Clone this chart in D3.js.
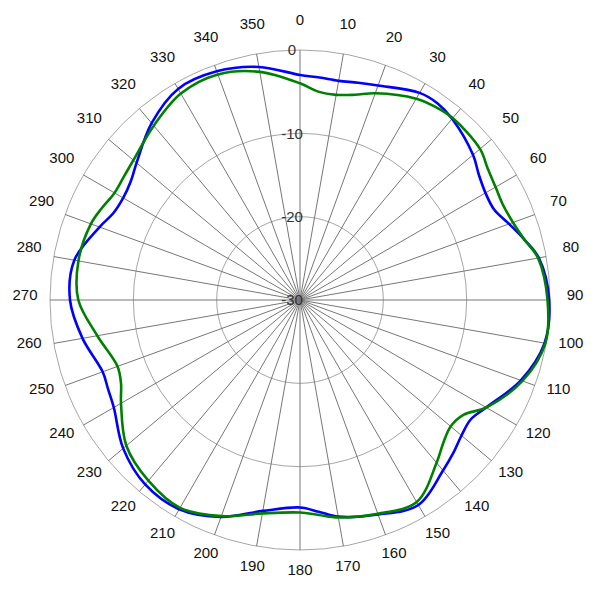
<!DOCTYPE html>
<html><head><meta charset="utf-8">
<script src="https://cdn.jsdelivr.net/npm/d3@7"></script>
<style>body{margin:0;background:#fff}svg{display:block}</style>
</head><body><svg id="c" width="600" height="600"></svg>
<script>
const angles = [0,5,10,15,20,30,35,40,50,55,60,65,70,75,80,90,100,110,120,125,130,135,140,150,160,170,175,180,190,200,210,220,230,240,245,250,260,270,280,290,295,300,305,310,320,330,340,350];
const blueValues = [-3.0,-3.2,-3.3,-3.0,-2.6,-1.3,-1.2,-1.6,-2.9,-3.8,-4.3,-4.3,-3.3,-2.1,-0.9,-0.1,-0.2,-1.8,-4.2,-5.0,-4.7,-4.0,-3.3,-1.6,-2.6,-3.6,-4.5,-5.1,-4.3,-2.3,-1.0,-1.1,-2.3,-4.2,-4.6,-4.8,-3.5,-2.4,-2.5,-4.4,-5.3,-5.5,-5.2,-4.4,-2.3,-0.75,-0.8,-1.6];
const greenValues = [-4.0,-4.9,-5.0,-4.5,-3.6,-2.1,-1.7,-1.5,-1.8,-2.5,-2.9,-3.1,-2.8,-2.1,-1.0,-0.3,-0.1,-1.6,-4.2,-6.0,-6.4,-5.7,-4.5,-2.0,-2.7,-3.5,-4.1,-4.5,-4.0,-2.4,-1.2,-1.7,-2.8,-5.2,-6.3,-6.7,-5.3,-3.4,-3.0,-3.3,-3.8,-4.3,-4.2,-3.9,-2.7,-1.4,-1.2,-2.2];
const radialTicks = [-30,-20,-10,0];
const angleTicks = d3.range(0,360,10);

const cx = 300, cy = 300, R = 250;
const svg = d3.select('#c');
const g = svg.append('g').attr('transform', `translate(${cx},${cy})`);
const r = d3.scaleLinear().domain([-30,0]).range([0,R]);
const a = d3.scaleLinear().domain([0,360]).range([0,2*Math.PI]);

// rings
g.selectAll('circle.ring').data(radialTicks.filter(d=>d>-30)).join('circle')
  .attr('r', d=>r(d)).attr('fill','none').attr('stroke','#a6a6a6').attr('stroke-width',1);
// spokes
g.selectAll('line.spoke').data(angleTicks).join('line')
  .attr('x1',0).attr('y1',0)
  .attr('x2', d=>R*Math.sin(a(d))).attr('y2', d=>-R*Math.cos(a(d)))
  .attr('stroke','#777').attr('stroke-width',1);

// angle labels
g.selectAll('text.ang').data(angleTicks).join('text')
  .attr('x', d=>275*Math.sin(a(d))).attr('y', d=>-275*Math.cos(a(d)))
  .attr('text-anchor','middle')
  .attr('font-family','Liberation Sans, Arial, sans-serif').attr('font-size',15)
  .attr('fill','#111').text(d=>d);

// radial labels
g.selectAll('text.rad').data(radialTicks).join('text')
  .attr('x', -8).attr('y', d=>-r(d))
  .attr('dy','0.35em')
  .attr('text-anchor','middle')
  .attr('font-family','Liberation Sans, Arial, sans-serif').attr('font-size',15)
  .attr('fill','#333').text(d=>d);

const line = d3.lineRadial()
  .angle(d=>a(d[0])).radius(d=>r(d[1]))
  .curve(d3.curveCatmullRomClosed.alpha(0.5));

const series = [
  {values: blueValues, color: '#0000ff'},
  {values: greenValues, color: '#008000'}
];
series.forEach(s=>{
  g.append('path').datum(angles.map((d,i)=>[d, s.values[i]]))
   .attr('d', line).attr('fill','none').attr('stroke', s.color).attr('stroke-width',2.6);
});
</script></body></html>
